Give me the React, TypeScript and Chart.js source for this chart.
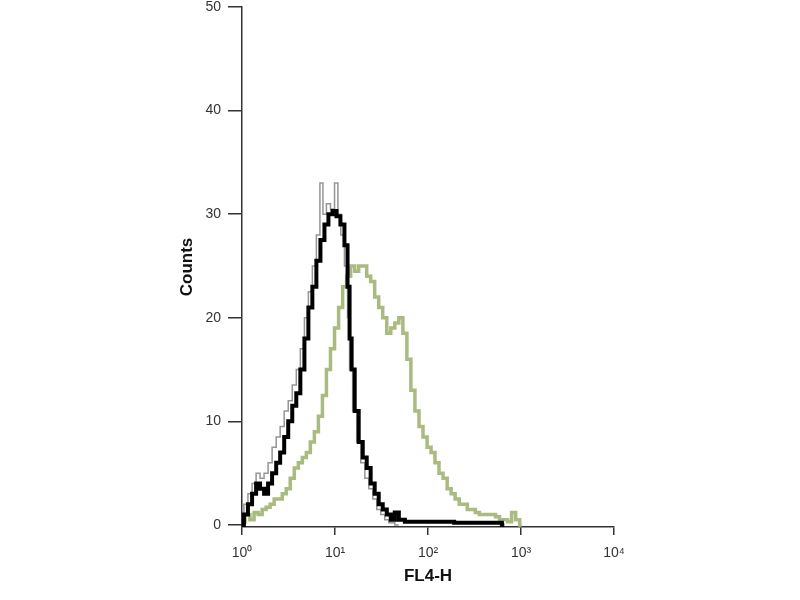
import React, { useEffect, useRef } from "react";
import { Chart, registerables } from "chart.js";

Chart.register(...registerables);

// FL4-H channel values (log axis) and counts for each histogram
const blackX = [1.0, 1.1, 1.22, 1.35, 1.49, 1.64, 1.82, 2.0, 2.22, 2.45, 2.7, 2.99, 3.3, 3.65, 4.03, 4.46, 4.93, 5.43, 6.0, 6.63, 7.33, 8.09, 8.93, 9.88, 10.9, 12.0, 13.3, 14.0, 14.7, 15.5, 17.1, 18.9, 20.9, 23.0, 25.4, 28.1, 31.0, 34.3, 37.9, 41.8, 46.2, 51.1, 62.3, 587, 661];
const blackY = [0, 1, 2, 3, 4, 3.5, 3, 4, 5, 6, 7, 8.5, 10, 11.5, 12.7, 15, 18, 21, 23, 25.5, 27.5, 29, 30, 30.3, 29.8, 29, 27, 23, 18, 15, 11, 8, 6.5, 5.5, 4, 3, 2, 1.5, 1, 0.5, 1.2, 0.5, 0.3, 0.2, 0];

const grayX = [1.0, 1.1, 1.22, 1.35, 1.49, 1.64, 1.82, 2.0, 2.22, 2.45, 2.7, 2.99, 3.3, 3.65, 4.03, 4.46, 4.93, 5.43, 6.0, 6.63, 7.15, 7.7, 8.5, 9.4, 10.4, 11.1, 12.0, 13.3, 14.0, 14.7, 16.3, 18.0, 19.9, 22.0, 24.3, 26.8, 29.5, 32.6, 36.0, 39.8, 48.6];
const grayY = [0.5, 2, 3, 4, 5, 4.5, 5, 6, 7.5, 8.5, 9.5, 11, 12, 13.5, 15, 17, 20, 22.5, 25, 28, 33, 30, 31, 30.5, 33, 30, 28, 25, 20, 15, 11, 8, 6, 4.5, 3.5, 2.5, 1.5, 1, 0.5, 0.2, 0];

const greenX = [1.0, 1.16, 1.28, 1.42, 1.57, 1.73, 1.91, 2.11, 2.33, 2.58, 2.85, 3.14, 3.47, 3.84, 4.24, 4.68, 5.17, 5.71, 6.31, 6.97, 7.7, 8.5, 9.4, 10.4, 11.5, 12.7, 14.0, 15.5, 17.1, 18.9, 20.9, 23.0, 25.4, 28.1, 31.0, 34.3, 37.9, 41.8, 46.2, 51.1, 56.4, 62.3, 68.8, 76.1, 84.1, 92.9, 103, 113, 125, 138, 153, 169, 186, 206, 228, 252, 278, 307, 339, 375, 414, 458, 506, 559, 618, 683, 754, 833, 921, 1017];
const greenY = [0.3, 1, 0.5, 1.2, 1, 1.5, 1.7, 2, 2.5, 2.5, 3, 3.5, 4.5, 5.5, 6, 6.5, 7, 8, 9, 10.5, 12.5, 15, 17, 19, 21, 23, 24, 25, 24.5, 25, 25, 24, 23.5, 22, 21, 20, 18.5, 19, 19.5, 20, 18.5, 16, 13, 11, 9.5, 8.5, 7.5, 7, 6, 5, 4.5, 3.5, 3, 2.5, 2, 2, 1.5, 1.5, 1.2, 1, 1, 1, 1, 0.8, 0.5, 0.5, 0.3, 1.2, 0.5, 0];

const xTicks = [1, 10, 100, 1000, 10000];
const xTickLabels = ["10⁰", "10¹", "10²", "10³", "10⁴"];
const yTicks = [0, 10, 20, 30, 40, 50];

const pts = (xs: number[], ys: number[]) => xs.map((x, i) => ({ x, y: ys[i] }));

export default function App() {
  const ref = useRef<HTMLCanvasElement | null>(null);

  useEffect(() => {
    document.body.style.margin = "0";
    const canvas = ref.current;
    if (!canvas) return;
    const tickFont = { family: "Liberation Sans", size: 14 };
    const titleFont = { family: "Liberation Sans", size: 17, weight: "bold" as const };
    const chart = new Chart(canvas, {
      type: "line",
      data: {
        datasets: [
          {
            label: "Black",
            data: pts(blackX, blackY),
            borderColor: "#000000",
            borderWidth: 4,
            stepped: "middle",
            pointRadius: 0,
            fill: false,
          },
          {
            label: "Gray",
            data: pts(grayX, grayY),
            borderColor: "#959595",
            borderWidth: 1.5,
            stepped: "middle",
            pointRadius: 0,
            fill: false,
          },
          {
            label: "Green",
            data: pts(greenX, greenY),
            borderColor: "#a9bb80",
            borderWidth: 3.5,
            stepped: "middle",
            pointRadius: 0,
            fill: false,
          },
        ],
      },
      options: {
        animation: false,
        responsive: false,
        layout: { padding: { top: 7, right: 186, left: 0, bottom: 0 } },
        plugins: { legend: { display: false }, tooltip: { enabled: false } },
        scales: {
          x: {
            type: "logarithmic",
            min: 1,
            max: 10000,
            afterBuildTicks: (scale: any) => {
              scale.ticks = xTicks.map((v) => ({ value: v, major: true }));
            },
            afterFit: (scale: any) => {
              scale.height = 73;
              scale.paddingLeft = 0;
              scale.paddingRight = 0;
            },
            ticks: {
              autoSkip: false,
              maxRotation: 0,
              padding: 10,
              color: "#333",
              font: tickFont,
              callback: (v: any) => {
                const i = xTicks.indexOf(Number(v));
                return i >= 0 ? xTickLabels[i] : "";
              },
            },
            grid: { drawOnChartArea: false, drawTicks: true, tickLength: 8, color: "#333", lineWidth: 1.5 },
            border: { display: true, color: "#333", width: 1.5 },
            title: { display: true, text: "FL4-H", color: "#111", font: titleFont, padding: { top: 4, bottom: 13 } },
          },
          y: {
            min: -0.2,
            max: 50,
            afterBuildTicks: (scale: any) => {
              scale.ticks = yTicks.map((v) => ({ value: v }));
            },
            afterFit: (scale: any) => {
              scale.width = 242;
              scale.paddingTop = 0;
              scale.paddingBottom = 0;
            },
            ticks: { padding: 7, color: "#333", font: tickFont },
            grid: { drawOnChartArea: false, drawTicks: true, tickLength: 14, color: "#333", lineWidth: 1.5 },
            border: { display: true, color: "#333", width: 1.5 },
            title: { display: true, text: "Counts", color: "#111", font: titleFont, padding: { top: 177, bottom: 0 } },
          },
        },
      },
    });
    return () => chart.destroy();
  }, []);

  return (
    <div style={{ width: 800, height: 600, background: "#fff" }}>
      <canvas ref={ref} width={800} height={600} style={{ display: "block" }} />
    </div>
  );
}
